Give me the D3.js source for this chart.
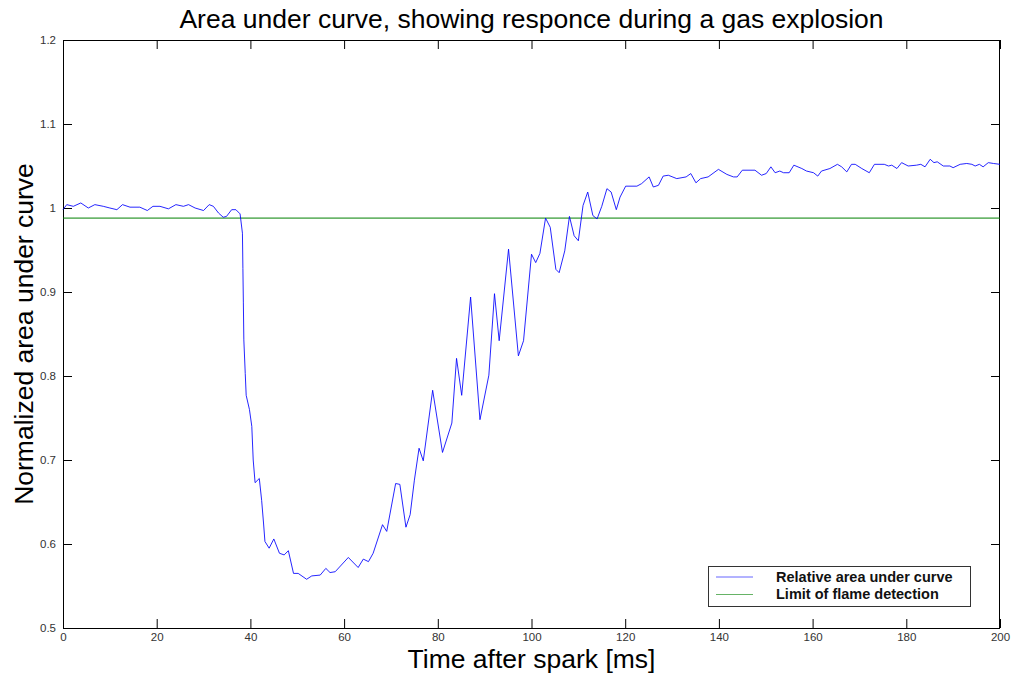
<!DOCTYPE html>
<html><head><meta charset="utf-8">
<script src="https://cdn.jsdelivr.net/npm/d3@7"></script>
<style>
html,body{margin:0;padding:0;background:#fff;}
svg{display:block;font-family:"Liberation Sans",Arial,sans-serif;}
</style></head>
<body><svg id="chart" width="1013" height="675"></svg>
<script>
const timeMs = [0,0.8,2.2,3.8,5.4,6.8,8.6,10.0,11.5,12.7,14.3,16.4,18.0,19.2,20.7,22.5,24.1,25.7,26.8,28.2,30.0,31.2,32.1,33.2,34.2,34.9,36.0,36.9,37.8,
38.3,38.4,38.5,38.6,38.9,39.1,39.8,40.3,40.6,41.0,41.9,42.4,42.8,43.1,44.0,45.0,46.2,47.2,48.1,49.2,50.2,52.0,53.1,54.9,56.1,57.0,58.1,60.9,63.0,64.1,65.2,66.2,68.2,69.1,71.0,71.9,73.2,74.1,75.0,76.0,76.9,78.9,81.0,83.0,84.0,85.1,87.0,89.0,90.9,92.1,93.1,95.1,97.2,98.3,100.0,100.9,101.8,103.0,104.0,105.2,105.9,107.1,108.1,109.1,110.0,111.0,112.0,113.1,114.0,115.0,116.1,117.0,118.1,118.9,120.1,122.5,123.5,125.1,126.0,127.1,128.1,129.2,131.0,133.0,134.0,135.1,136.1,137.7,139.9,141.7,143.1,143.9,145.0,147.7,149.1,150.1,151.1,152.0,153.0,153.8,155.0,156.0,157.7,158.7,160.2,161.1,161.9,163.7,165.3,166.2,167.3,168.3,169.1,170.5,172.1,173.2,175.3,176.2,176.9,178.0,179.0,180.4,182.2,183.1,184.0,185.1,185.9,186.6,187.9,189.3,190.0,191.5,192.9,194.0,194.7,195.6,196.4,197.5,198.6,200.0];
const relativeArea = [0.998,1.004,1.002,1.006,1.000,1.004,1.002,1.000,0.998,1.004,1.001,1.001,0.997,1.002,1.002,0.999,1.004,1.002,1.004,1.000,0.997,1.004,1.002,0.994,0.989,0.990,0.998,0.998,0.993,
0.970,0.928,0.887,0.843,0.803,0.777,0.760,0.740,0.700,0.673,0.678,0.652,0.625,0.603,0.595,0.606,0.589,0.587,0.592,0.565,0.565,0.558,0.562,0.563,0.571,0.566,0.567,0.584,0.572,0.582,0.579,0.589,0.623,0.615,0.672,0.671,0.620,0.635,0.676,0.714,0.699,0.783,0.709,0.744,0.821,0.777,0.894,0.748,0.801,0.898,0.842,0.951,0.824,0.842,0.945,0.935,0.946,0.988,0.977,0.927,0.923,0.949,0.990,0.967,0.961,1.003,1.019,0.991,0.987,1.002,1.023,1.019,0.998,1.013,1.026,1.026,1.029,1.037,1.025,1.027,1.038,1.039,1.035,1.037,1.041,1.030,1.035,1.037,1.046,1.040,1.037,1.037,1.045,1.045,1.039,1.041,1.049,1.042,1.044,1.042,1.042,1.051,1.047,1.044,1.042,1.038,1.044,1.047,1.052,1.049,1.043,1.052,1.052,1.047,1.042,1.052,1.052,1.050,1.051,1.047,1.054,1.050,1.051,1.052,1.049,1.058,1.054,1.055,1.050,1.050,1.048,1.052,1.053,1.052,1.050,1.052,1.049,1.054,1.053,1.052];
const detectionLimit = [0.988, 0.988];
const limitTimes = [0, 200];
const xTicks = [0,20,40,60,80,100,120,140,160,180,200];
const yTicks = [0.5,0.6,0.7,0.8,0.9,1.0,1.1,1.2];
const seriesNames = ["Relative area under curve","Limit of flame detection"];
const seriesColors = ["#0000ff","#008000"];

const svg = d3.select("#chart");
const L=63, R=1000, T=40, B=628;
const x = d3.scaleLinear().domain([0,200]).range([L,R]);
const y = d3.scaleLinear().domain([0.5,1.2]).range([B,T]);

const tickLen = 9;
const fmtY = d => d3.format("")(+d.toFixed(1));
const axB = svg.append("g").attr("transform",`translate(0,${B})`)
  .call(d3.axisBottom(x).tickValues(xTicks).tickSizeInner(-tickLen).tickSizeOuter(0).tickPadding(5));
const axT = svg.append("g").attr("transform",`translate(0,${T})`)
  .call(d3.axisTop(x).tickValues(xTicks).tickSizeInner(-tickLen).tickSizeOuter(0).tickFormat(""));
const axL = svg.append("g").attr("transform",`translate(${L},0)`)
  .call(d3.axisLeft(y).tickValues(yTicks).tickSizeInner(-tickLen).tickSizeOuter(0).tickPadding(7).tickFormat(fmtY));
const axR = svg.append("g").attr("transform",`translate(${R},0)`)
  .call(d3.axisRight(y).tickValues(yTicks).tickSizeInner(-tickLen).tickSizeOuter(0).tickFormat(""));
[axB,axT,axL,axR].forEach(a=>{
  a.select(".domain").remove();
  a.selectAll("line").attr("stroke","#000").attr("stroke-width",1);
  a.selectAll("text").attr("fill","#333").style("font-size","11.5px").style("font-family","'Liberation Sans',Arial,sans-serif");
});
svg.append("rect").attr("x",L+0.5).attr("y",T+0.5).attr("width",R-L-1).attr("height",B-T)
  .attr("fill","none").attr("stroke","#000").attr("stroke-width",1);

const limitData = limitTimes.map((t,i)=>({t, v:detectionLimit[i]}));
svg.append("path").datum(limitData)
  .attr("d", d3.line().x(d=>x(d.t)).y(d=>y(d.v)))
  .attr("fill","none").attr("stroke",seriesColors[1]).attr("stroke-width",1);

const curve = timeMs.map((t,i)=>({t, v:relativeArea[i]}));
svg.append("path").datum(curve)
  .attr("d", d3.line().x(d=>x(d.t)).y(d=>y(d.v)))
  .attr("fill","none").attr("stroke",seriesColors[0]).attr("stroke-width",1)
  .attr("stroke-opacity",0.85);

svg.append("text").attr("x",(L+R)/2).attr("y",28).attr("text-anchor","middle")
  .style("font-size","26.5px").text("Area under curve, showing responce during a gas explosion");
svg.append("text").attr("x",(L+R)/2).attr("y",668).attr("text-anchor","middle")
  .style("font-size","26.5px").text("Time after spark [ms]");
svg.append("text").attr("transform",`translate(33,${(T+B)/2}) rotate(-90)`).attr("text-anchor","middle")
  .style("font-size","26.5px").text("Normalized area under curve");

const lg = svg.append("g");
lg.append("rect").attr("x",708.5).attr("y",566.5).attr("width",262).attr("height",40)
  .attr("fill","#fff").attr("stroke","#333").attr("stroke-width",1);
seriesNames.forEach((n,i)=>{
  const yy = 577 + i*17.5;
  lg.append("line").attr("x1",716).attr("x2",753).attr("y1",yy).attr("y2",yy)
    .attr("stroke",seriesColors[i]).attr("stroke-opacity",0.6).attr("stroke-width",1);
  lg.append("text").attr("x",776).attr("y",yy+4.5).style("font-size","14.5px").style("font-weight","bold")
    .attr("fill","#111").text(n);
});
</script></body></html>
